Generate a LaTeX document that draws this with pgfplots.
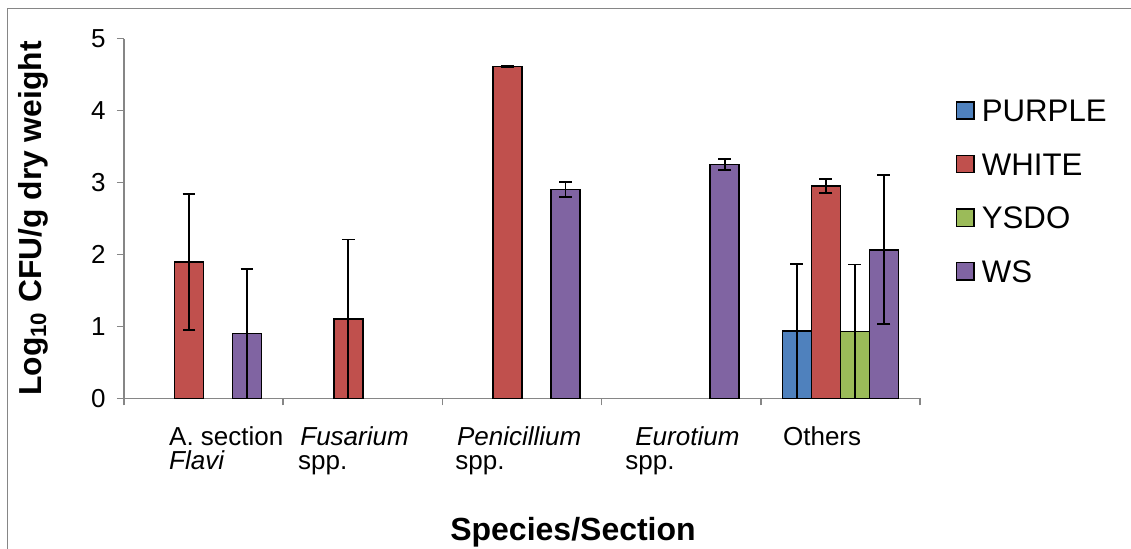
\documentclass[border=0pt]{standalone}
\usepackage{pgfplots}
\pgfplotsset{compat=1.18}
\usepackage{fontspec}
\setmainfont{Liberation Sans}

\definecolor{cPurple}{HTML}{4F81BD}
\definecolor{cWhite}{HTML}{C0504D}
\definecolor{cYsdo}{HTML}{9BBB59}
\definecolor{cWs}{HTML}{8064A2}
\definecolor{axisgray}{RGB}{134,134,134}

\begin{document}
\begin{tikzpicture}
% page size
\useasboundingbox (-62pt,-75.35pt) rectangle (503.5pt,199.15pt);
% outer frame (left and top edges)
\draw[axisgray, line width=0.75pt] (-58.25pt,-80pt) -- (-58.25pt,194.9pt) -- (510pt,194.9pt);

\begin{axis}[
  scale only axis, width=398pt, height=179.8pt,
  xmin=-0.5, xmax=4.5, ymin=0, ymax=5,
  axis x line*=bottom, axis y line*=left,
  axis line style={axisgray, line width=0.75pt},
  xtick={-0.5,0.5,1.5,2.5,3.5,4.5}, xticklabels={},
  ytick={0,1,2,3,4,5},
  tick align=outside, major tick length=3.5pt,
  tick style={axisgray, line width=0.75pt},
  /pgf/number format/assume math mode=true,
  yticklabel style={font=\fontsize{13}{15}\selectfont, inner sep=0pt, xshift=-5.5pt},
  ybar=0pt, bar width=14.5pt,
  error bars/y dir=both, error bars/y explicit,
  error bars/error bar style={black, line width=0.85pt},
  error bars/error mark options={rotate=90, black, mark size=3.2pt, line width=0.85pt},
  ylabel={Log\textsubscript{10} CFU/g dry weight},
  ylabel style={at={(axis description cs:-0.10427,0.5)}, anchor=base, inner sep=0pt,
                font=\bfseries\fontsize{15.9}{18}\selectfont},
  xlabel={Species/Section},
  xlabel style={at={(axis description cs:0.5641,-0.3968)}, anchor=base, inner sep=0pt,
                font=\bfseries\fontsize{16}{18}\selectfont},
  legend image code/.code={\draw[#1, line width=0.75pt] (0pt,-4.3pt) rectangle (8.6pt,4.3pt);},
  legend style={at={(axis description cs:1.0452,0.8315)}, anchor=north west,
                draw=none, fill=none, inner sep=0pt, outer sep=0pt,
                row sep=15.6pt, column sep=3.6pt,
                font=\fontsize{15.6}{18}\selectfont,
                nodes={inner sep=0pt, text height=11.2pt, text depth=0pt}},
  legend cell align=left,
]
% PURPLE
\addplot[fill=cPurple, draw=black, line width=0.75pt] coordinates {
  (4,0.935) += (0,0.935) -= (0,1.0)
};
% WHITE
\addplot[fill=cWhite, draw=black, line width=0.75pt] coordinates {
  (0,1.895) +- (0,0.95)
  (1,1.10) += (0,1.11) -= (0,1.15)
  (2,4.61) +- (0,0.012)
  (4,2.95) +- (0,0.10)
};
% YSDO
\addplot[fill=cYsdo, draw=black, line width=0.75pt] coordinates {
  (4,0.93) += (0,0.93) -= (0,1.0)
};
% WS
\addplot[fill=cWs, draw=black, line width=0.75pt] coordinates {
  (0,0.90) += (0,0.90) -= (0,0.95)
  (2,2.90) +- (0,0.105)
  (3,3.25) +- (0,0.075)
  (4,2.065) +- (0,1.035)
};
\legend{PURPLE,WHITE,YSDO,WS}
\end{axis}

% category labels
\begin{scope}[every node/.style={anchor=base west, inner sep=0pt, font=\fontsize{13}{15}\selectfont}]
\node at (22.4pt,-23.85pt) {A. section};
\node at (22.4pt,-35.85pt) {\itshape Flavi};
\node at (88pt,-23.85pt) {\itshape Fusarium};
\node at (86.85pt,-35.85pt) {spp.};
\node at (166.35pt,-23.85pt) {\itshape Penicillium};
\node at (165.5pt,-35.85pt) {spp.};
\node at (255.5pt,-23.85pt) {\itshape Eurotium};
\node at (250.5pt,-35.85pt) {spp.};
\node at (329.35pt,-23.85pt) {Others};
\end{scope}
\end{tikzpicture}
\end{document}
